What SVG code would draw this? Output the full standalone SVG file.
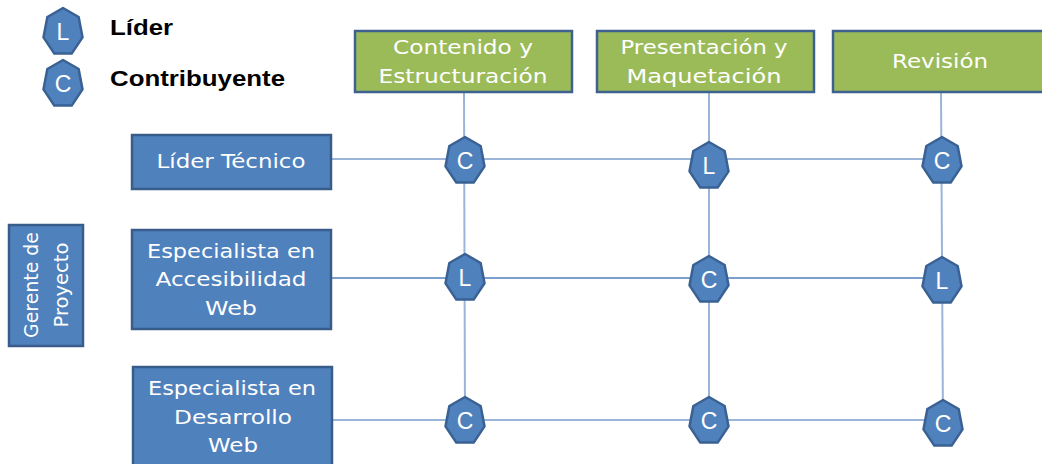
<svg xmlns="http://www.w3.org/2000/svg" width="1042" height="464" viewBox="0 0 1042 464">
<style>
.hdr{fill:#9bbb59;stroke:#3f6190;stroke-width:2.5}
.role{fill:#4f81bd;stroke:#385d8a;stroke-width:2.5}
.hept{fill:#4f81bd;stroke:#3a6193;stroke-width:2.5;stroke-linejoin:round}
.t{font-family:"DejaVu Sans",Verdana,sans-serif;font-size:20px;fill:#ffffff;text-anchor:middle}
.n{font-family:"Liberation Sans",Arial,sans-serif;font-size:23px;fill:#ffffff;text-anchor:middle}
.lg{font-family:"Liberation Sans",Arial,sans-serif;font-size:22px;font-weight:bold;fill:#000000}
.ln{stroke:#9ab5d9;stroke-width:2;fill:none}
.ln2{stroke:#4f81bd;stroke-width:1.6;fill:none}
</style>
<defs>
<polygon id="hp" class="hept" points="0,-24 15.64,-14.96 19.5,5.34 8.68,21.62 -8.68,21.62 -19.5,5.34 -15.64,-14.96"/>
</defs>
<g id="connectors">
<line class="ln" x1="332" y1="159" x2="942" y2="159"/>
<line class="ln2" x1="331" y1="278" x2="942" y2="278"/>
<line class="ln" x1="333" y1="420" x2="943" y2="420"/>
<line class="ln" x1="464" y1="92" x2="465" y2="421"/>
<line class="ln" x1="709" y1="92" x2="709" y2="421"/>
<line class="ln" x1="941" y1="92" x2="943" y2="424"/>
</g>
<g id="legend-lider">
<use href="#hp" x="63" y="32"/>
<text class="n" x="63" y="40">L</text>
<text class="lg" x="110" y="35" textLength="63" lengthAdjust="spacingAndGlyphs">Líder</text>
</g>
<g id="legend-contribuyente">
<use href="#hp" x="63" y="84"/>
<text class="n" x="63" y="92">C</text>
<text class="lg" x="110" y="86" textLength="175" lengthAdjust="spacingAndGlyphs">Contribuyente</text>
</g>
<g id="hdr-contenido">
<rect class="hdr" x="355" y="31" width="217" height="61"/>
<text class="t" x="463" y="54" textLength="140" lengthAdjust="spacingAndGlyphs">Contenido y</text>
<text class="t" x="463" y="83" textLength="169" lengthAdjust="spacingAndGlyphs">Estructuración</text>
</g>
<g id="hdr-presentacion">
<rect class="hdr" x="597" y="31" width="217" height="61"/>
<text class="t" x="704" y="54" textLength="167" lengthAdjust="spacingAndGlyphs">Presentación y</text>
<text class="t" x="704" y="83" textLength="155" lengthAdjust="spacingAndGlyphs">Maquetación</text>
</g>
<g id="hdr-revision">
<rect class="hdr" x="833" y="31" width="217" height="61"/>
<text class="t" x="940" y="68" textLength="96" lengthAdjust="spacingAndGlyphs">Revisión</text>
</g>
<g id="role-lider-tecnico">
<rect class="role" x="132" y="135" width="199" height="54"/>
<text class="t" x="231" y="168" textLength="149" lengthAdjust="spacingAndGlyphs">Líder Técnico</text>
</g>
<g id="role-accesibilidad">
<rect class="role" x="132" y="230" width="199" height="99"/>
<text class="t" x="231" y="258" textLength="168" lengthAdjust="spacingAndGlyphs">Especialista en</text>
<text class="t" x="231" y="286" textLength="151" lengthAdjust="spacingAndGlyphs">Accesibilidad</text>
<text class="t" x="231" y="315" textLength="52" lengthAdjust="spacingAndGlyphs">Web</text>
</g>
<g id="role-desarrollo">
<rect class="role" x="133" y="367" width="199" height="110"/>
<text class="t" x="232" y="395" textLength="168" lengthAdjust="spacingAndGlyphs">Especialista en</text>
<text class="t" x="233" y="424" textLength="118" lengthAdjust="spacingAndGlyphs">Desarrollo</text>
<text class="t" x="233" y="452" textLength="50" lengthAdjust="spacingAndGlyphs">Web</text>
</g>
<g id="role-gerente">
<rect class="role" x="9" y="225" width="74" height="121"/>
<text class="t" transform="translate(38,285) rotate(-90)" x="0" y="0" textLength="106" lengthAdjust="spacingAndGlyphs">Gerente de</text>
<text class="t" transform="translate(68,285) rotate(-90)" x="0" y="0" textLength="85" lengthAdjust="spacingAndGlyphs">Proyecto</text>
</g>
<g id="n-r1c1"><use href="#hp" x="465" y="161"/><text class="n" x="465" y="169">C</text></g>
<g id="n-r1c2"><use href="#hp" x="709" y="166"/><text class="n" x="709" y="174">L</text></g>
<g id="n-r1c3"><use href="#hp" x="942" y="161"/><text class="n" x="942" y="169">C</text></g>
<g id="n-r2c1"><use href="#hp" x="465" y="278"/><text class="n" x="465" y="286">L</text></g>
<g id="n-r2c2"><use href="#hp" x="709" y="280"/><text class="n" x="709" y="288">C</text></g>
<g id="n-r2c3"><use href="#hp" x="942" y="281"/><text class="n" x="942" y="289">L</text></g>
<g id="n-r3c1"><use href="#hp" x="465" y="421"/><text class="n" x="465" y="429">C</text></g>
<g id="n-r3c2"><use href="#hp" x="709" y="421"/><text class="n" x="709" y="429">C</text></g>
<g id="n-r3c3"><use href="#hp" x="943" y="424"/><text class="n" x="943" y="432">C</text></g>
</svg>
